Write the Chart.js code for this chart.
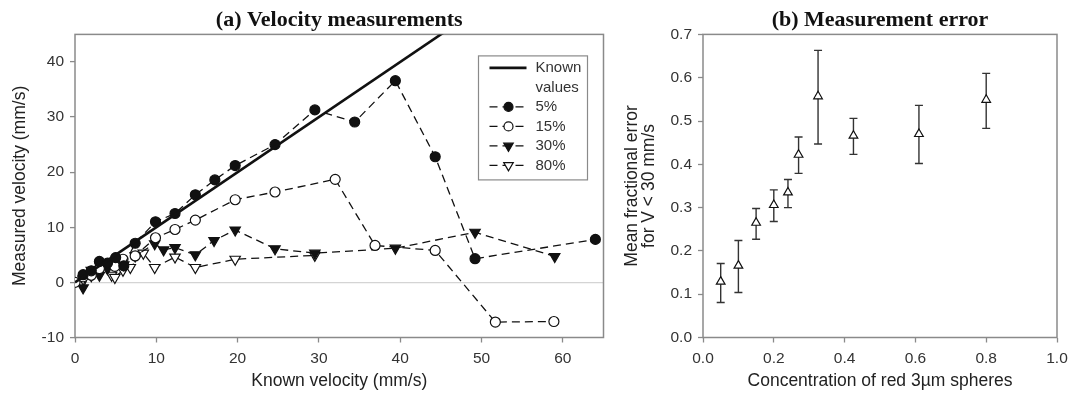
<!DOCTYPE html>
<html>
<head>
<meta charset="utf-8">
<script src="https://cdn.jsdelivr.net/npm/chart.js@4.4.1/dist/chart.umd.min.js"></script>
<style>
    body { margin: 0; background: #fff; }
    #wrap { position: relative; width: 1083px; height: 395px; overflow: hidden; }
    canvas { position: absolute; top: 0; }
    #grafico1 { left: 0; width: 615px; height: 395px; }
    #grafico2 { left: 615px; width: 468px; height: 395px; }
</style>
</head>
<body>
<div id="wrap">
    <canvas id="grafico1" width="615" height="395"></canvas>
    <canvas id="grafico2" width="468" height="395"></canvas>
</div>
<script>
// (a) velocity measurements
const knownX = [0, 65];
const knownY = [0, 65];

const x5 = [1, 2, 3, 4, 5, 6, 7.4, 9.9, 12.3, 14.8, 17.2, 19.7, 24.6, 29.5, 34.4, 39.4, 44.3, 49.2, 64];
const y5 = [1.4, 2.1, 3.8, 3.5, 4.5, 3.0, 7.1, 11.0, 12.5, 15.9, 18.6, 21.2, 25.0, 31.3, 29.1, 36.6, 22.8, 4.3, 7.8];

const x15 = [0, 1, 2, 3, 4.9, 5.9, 7.4, 9.9, 12.3, 14.8, 19.7, 24.6, 32.0, 36.9, 44.3, 51.7, 58.9];
const y15 = [0, 1.0, 1.3, 2.5, 2.9, 4.2, 4.8, 8.1, 9.6, 11.3, 15.0, 16.4, 18.7, 6.7, 5.8, -7.2, -7.1];

const x30 = [1, 2, 3, 4, 5, 6, 7.4, 9.8, 10.9, 12.3, 14.8, 17.1, 19.7, 24.6, 29.5, 39.4, 49.2, 59];
const y30 = [-1.0, 2.2, 1.3, 2.5, 3.0, 3.2, 4.8, 7.0, 5.9, 6.3, 5.0, 7.6, 9.5, 6.1, 5.3, 6.2, 9.1, 4.7];

const x80 = [1, 2, 3, 4.5, 4.9, 5.9, 6.8, 8.4, 9.8, 12.3, 14.8, 19.7, 29.5];
const y80 = [0.6, 1.2, 2.3, 1.3, 0.9, 2.2, 2.7, 5.3, 2.7, 4.6, 2.7, 4.2, 4.9];

const seriesLabels = ["Known values", "5%", "15%", "30%", "80%"];

// (b) measurement error
const concX = [0.05, 0.10, 0.15, 0.20, 0.24, 0.27, 0.325, 0.425, 0.61, 0.80];
const meanErr = [0.129, 0.166, 0.265, 0.306, 0.335, 0.422, 0.557, 0.466, 0.470, 0.549];
const errLow = [0.081, 0.104, 0.227, 0.268, 0.300, 0.379, 0.447, 0.423, 0.402, 0.483];
const errHigh = [0.171, 0.224, 0.298, 0.341, 0.365, 0.463, 0.663, 0.506, 0.536, 0.610];

const sansFont = "'Liberation Sans', Arial, sans-serif";
const serifFont = "'Liberation Serif', 'Times New Roman', serif";
const textColor = "#333";
const axisColor = "#8a8a8a";
const lineColor = "#111";

function toPoints(xs, ys) {
    return xs.map((x, i) => ({ x: x, y: ys[i] }));
}

// caixa cinza em volta da área do gráfico
const plotBox = {
    id: "plotBox",
    beforeDatasetsDraw(chart) {
        const { ctx, chartArea: a } = chart;
        ctx.save();
        ctx.strokeStyle = axisColor;
        ctx.lineWidth = 1.5;
        ctx.strokeRect(a.left, a.top, a.right - a.left, a.bottom - a.top);
        ctx.restore();
    },
};

// legenda dentro do painel (a)
const boxLegend = {
    id: "boxLegend",
    afterDatasetsDraw(chart) {
        const { ctx, chartArea: a } = chart;
        const left = a.right - 125;
        const top = a.top + 21.5;
        ctx.save();
        ctx.fillStyle = "#fff";
        ctx.fillRect(left, top, 109, 124);
        ctx.strokeStyle = axisColor;
        ctx.lineWidth = 1.2;
        ctx.strokeRect(left, top, 109, 124);
        ctx.font = "15px " + sansFont;
        ctx.textBaseline = "middle";
        let y = top + 12;
        chart.data.datasets.forEach((ds) => {
            ctx.strokeStyle = ds.borderColor;
            ctx.lineWidth = ds.borderWidth;
            ctx.setLineDash(ds.borderDash || []);
            ctx.beginPath();
            ctx.moveTo(left + 11, y);
            ctx.lineTo(left + 48, y);
            ctx.stroke();
            ctx.setLineDash([]);
            if (ds.pointRadius > 0) {
                ctx.fillStyle = ds.pointBackgroundColor;
                ctx.strokeStyle = ds.pointBorderColor;
                ctx.lineWidth = ds.pointBorderWidth;
                Chart.helpers.drawPoint(ctx, {
                    pointStyle: ds.pointStyle,
                    rotation: ds.pointRotation || 0,
                    radius: ds.pointRadius - 0.5,
                    borderWidth: ds.pointBorderWidth,
                }, left + 30, y);
            }
            ctx.fillStyle = textColor;
            const lines = ds.label.length > 6 ? ds.label.split(" ") : [ds.label];
            lines.forEach((t, i) => {
                ctx.fillText(t, left + 57, y + i * 19.5);
            });
            y += lines.length * 19.5;
        });
        ctx.restore();
    },
};

// barras de erro do painel (b)
const errorBars = {
    id: "errorBars",
    beforeDatasetsDraw(chart) {
        const { ctx, scales } = chart;
        ctx.save();
        ctx.strokeStyle = "#333";
        ctx.lineWidth = 1.4;
        concX.forEach((c, i) => {
            const px = scales.x.getPixelForValue(c);
            const lo = scales.y.getPixelForValue(errLow[i]);
            const hi = scales.y.getPixelForValue(errHigh[i]);
            ctx.beginPath();
            ctx.moveTo(px, lo);
            ctx.lineTo(px, hi);
            ctx.moveTo(px - 4, lo);
            ctx.lineTo(px + 4, lo);
            ctx.moveTo(px - 4, hi);
            ctx.lineTo(px + 4, hi);
            ctx.stroke();
        });
        ctx.restore();
    },
};

function seriesStyle(label, xs, ys, style, fill, rotation, radius) {
    return {
        label: label,
        data: toPoints(xs, ys),
        showLine: true,
        borderColor: lineColor,
        borderWidth: 1.3,
        borderDash: [8, 5],
        pointStyle: style,
        pointRotation: rotation,
        pointRadius: radius,
        pointBackgroundColor: fill,
        pointBorderColor: lineColor,
        pointBorderWidth: 1.2,
    };
}

function titleOptions(text) {
    return {
        display: true,
        text: text,
        fullSize: false,
        color: "#111",
        font: { family: serifFont, size: 22, weight: "bold" },
        padding: { top: 7, bottom: 1 },
    };
}

function tickFont() {
    return { family: sansFont, size: 15.5 };
}

const data1 = {
    datasets: [
        {
            label: seriesLabels[0],
            data: toPoints(knownX, knownY),
            showLine: true,
            borderColor: lineColor,
            borderWidth: 2.6,
            pointRadius: 0,
        },
        seriesStyle(seriesLabels[1], x5, y5, "circle", lineColor, 0, 5),
        seriesStyle(seriesLabels[2], x15, y15, "circle", "#fff", 0, 5),
        seriesStyle(seriesLabels[3], x30, y30, "triangle", lineColor, 180, 6),
        seriesStyle(seriesLabels[4], x80, y80, "triangle", "#fff", 180, 6),
    ],
};

new Chart(document.getElementById("grafico1"), {
    type: "scatter",
    data: data1,
    plugins: [plotBox, boxLegend],
    options: {
        responsive: false,
        animation: false,
        events: [],
        layout: { padding: { left: 0, right: 11.5, top: 0, bottom: 0 } },
        plugins: {
            legend: { display: false },
            tooltip: { enabled: false },
            title: titleOptions("(a) Velocity measurements"),
        },
        scales: {
            x: {
                type: "linear",
                min: 0,
                max: 65,
                ticks: { stepSize: 10, includeBounds: false, color: textColor, font: tickFont(), padding: 6.5, maxRotation: 0 },
                grid: { drawOnChartArea: false, tickLength: 5, tickColor: axisColor, tickWidth: 1.3 },
                border: { display: false },
                title: { display: true, text: "Known velocity (mm/s)", color: "#222", font: { family: sansFont, size: 17.5 }, padding: { top: 0, bottom: 3 } },
                afterFit: (s) => { s.height = 57.5; },
            },
            y: {
                type: "linear",
                min: -10,
                max: 45,
                ticks: { stepSize: 10, includeBounds: false, color: textColor, font: tickFont(), padding: 6 },
                grid: {
                    color: (c) => (c.tick && c.tick.value === 0 ? "#d4d4d4" : "rgba(0,0,0,0)"),
                    lineWidth: 1.2,
                    tickLength: 5,
                    tickColor: axisColor,
                    tickWidth: 1.3,
                },
                border: { display: false },
                title: { display: true, text: "Measured velocity (mm/s)", color: "#222", font: { family: sansFont, size: 17.5 }, padding: { top: 9.5, bottom: 0 } },
                afterFit: (s) => { s.width = 75; },
            },
        },
    },
});

const data2 = {
    datasets: [
        {
            label: "Mean fractional error",
            data: toPoints(concX, meanErr),
            showLine: false,
            pointStyle: "triangle",
            pointRadius: 5,
            pointBackgroundColor: "#fff",
            pointBorderColor: lineColor,
            pointBorderWidth: 1.2,
        },
    ],
};

new Chart(document.getElementById("grafico2"), {
    type: "scatter",
    data: data2,
    plugins: [plotBox, errorBars],
    options: {
        responsive: false,
        animation: false,
        events: [],
        layout: { padding: { left: 0, right: 26, top: 0, bottom: 0 } },
        plugins: {
            legend: { display: false },
            tooltip: { enabled: false },
            title: titleOptions("(b) Measurement error"),
        },
        scales: {
            x: {
                type: "linear",
                min: 0,
                max: 1,
                ticks: { stepSize: 0.2, color: textColor, font: tickFont(), padding: 6.5, maxRotation: 0, callback: (v) => v.toFixed(1) },
                grid: { drawOnChartArea: false, tickLength: 5, tickColor: axisColor, tickWidth: 1.3 },
                border: { display: false },
                title: { display: true, text: "Concentration of red 3\u00b5m spheres", color: "#222", font: { family: sansFont, size: 17.5 }, padding: { top: 0, bottom: 3 } },
                afterFit: (s) => { s.height = 57.5; },
            },
            y: {
                type: "linear",
                min: 0,
                max: 0.7,
                ticks: { stepSize: 0.1, color: textColor, font: tickFont(), padding: 6, callback: (v) => v.toFixed(1) },
                grid: { drawOnChartArea: false, tickLength: 5, tickColor: axisColor, tickWidth: 1.3 },
                border: { display: false },
                title: {
                    display: true,
                    text: ["Mean fractional error", "for V < 30 mm/s"],
                    color: "#222",
                    font: { family: sansFont, size: 17.5, lineHeight: 1.0 },
                    padding: { top: 8, bottom: 0 },
                },
                afterFit: (s) => { s.width = 88; },
            },
        },
    },
});
</script>
</body>
</html>
